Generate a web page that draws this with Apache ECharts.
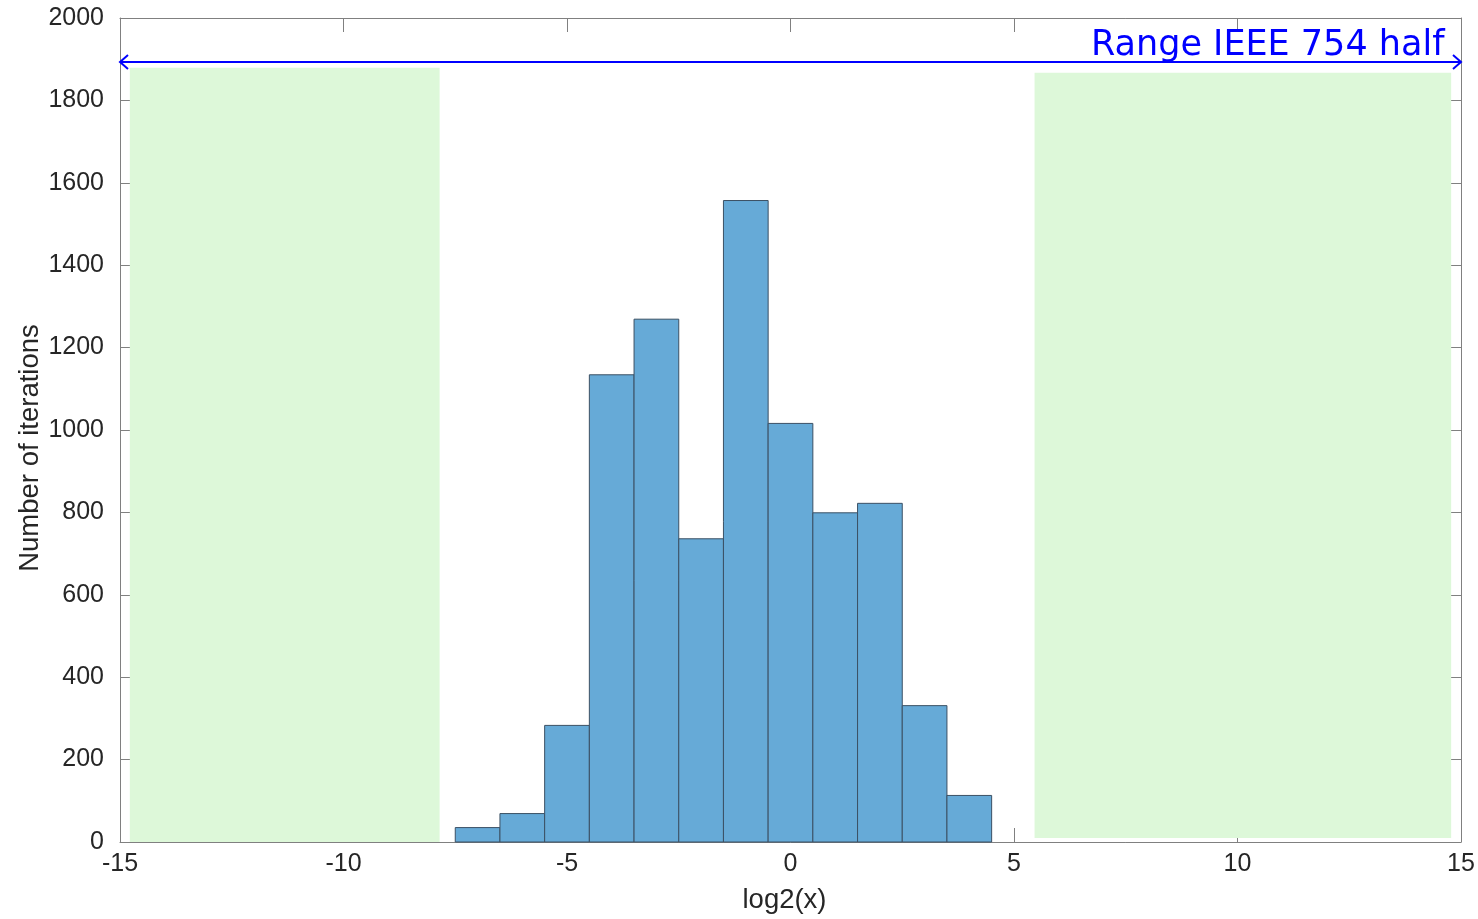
<!DOCTYPE html>
<html>
<head>
<meta charset="utf-8">
<script src="https://cdn.jsdelivr.net/npm/echarts@6/dist/echarts.min.js"></script>
<style>
html,body{margin:0;padding:0;background:#fff;}
#chart{width:1478px;height:919px;}
</style>
</head>
<body>
<div id="chart"></div>
<script>
// ---- data ----
var binCenters = [-7, -6, -5, -4, -3, -2, -1, 0, 1, 2, 3, 4];
var counts = [35, 69, 283, 1134, 1269, 736, 1557, 1016, 799, 822, 331, 113];
var binWidth = 1;
// shaded regions: [xStart, xEnd, yBottom, yTop]
var shadeLeft = [-14.78, -7.85, 0, 1879];
var shadeRight = [5.46, 14.78, 10, 1867];
// range arrow: [xStart, xEnd, y]
var rangeArrow = [-15, 15, 1893];
var rangeLabel = 'Range IEEE 754 half';
var rangeLabelPos = [14.63, 1890];
var xTicks = [-15, -10, -5, 0, 5, 10, 15];
var yTicks = [0, 200, 400, 600, 800, 1000, 1200, 1400, 1600, 1800, 2000];

var chart = echarts.init(document.getElementById('chart'));
var axisColor = '#808080';
var labelColor = '#262626';
var tickFont = 'Liberation Sans, Arial, sans-serif';

var barData = binCenters.map(function (c, i) { return [c, counts[i]]; });

var option = {
  animation: false,
  backgroundColor: '#ffffff',
  grid: { left: 120, right: 17, top: 18, bottom: 77, containLabel: false },
  xAxis: [{
    type: 'value', min: xTicks[0], max: xTicks[xTicks.length - 1], interval: 5,
    name: 'log2(x)', nameLocation: 'middle', nameGap: 44, nameMoveOverlap: false,
    nameTextStyle: { fontSize: 27.5, color: labelColor, fontFamily: tickFont, padding: [0, 12, 0, 0] },
    axisLine: { show: true, onZero: false, lineStyle: { color: axisColor, width: 1 } },
    axisTick: { show: true, inside: true, length: 14, lineStyle: { color: axisColor } },
    axisLabel: { fontSize: 25, color: labelColor, fontFamily: tickFont, margin: 10,
      formatter: function (v) { return String(v); } },
    splitLine: { show: false }
  }, {
    type: 'value', min: xTicks[0], max: xTicks[xTicks.length - 1], interval: 5, position: 'top',
    axisLine: { show: true, onZero: false, lineStyle: { color: axisColor, width: 1 } },
    axisTick: { show: true, inside: true, length: 14, lineStyle: { color: axisColor } },
    axisLabel: { show: false },
    splitLine: { show: false }
  }],
  yAxis: [{
    type: 'value', min: yTicks[0], max: yTicks[yTicks.length - 1], interval: 200,
    name: 'Number of iterations', nameLocation: 'middle', nameGap: 76, nameMoveOverlap: false,
    nameTextStyle: { fontSize: 27.5, color: labelColor, fontFamily: tickFont, padding: [0, 36, 0, 0] },
    axisLine: { show: true, onZero: false, lineStyle: { color: axisColor, width: 1 } },
    axisTick: { show: true, inside: true, length: 14, lineStyle: { color: axisColor } },
    axisLabel: { fontSize: 25, color: labelColor, fontFamily: tickFont, margin: 16,
      formatter: function (v) { return String(v); } },
    splitLine: { show: false }
  }, {
    type: 'value', min: yTicks[0], max: yTicks[yTicks.length - 1], interval: 200, position: 'right',
    axisLine: { show: true, onZero: false, lineStyle: { color: axisColor, width: 1 } },
    axisTick: { show: true, inside: true, length: 14, lineStyle: { color: axisColor } },
    axisLabel: { show: false },
    splitLine: { show: false }
  }],
  series: [{
    type: 'custom',
    name: 'shade',
    z: 1,
    data: [shadeLeft, shadeRight],
    renderItem: function (params, api) {
      var p0 = api.coord([api.value(0), api.value(3)]);
      var p1 = api.coord([api.value(1), api.value(2)]);
      return {
        type: 'rect',
        shape: { x: p0[0], y: p0[1], width: p1[0] - p0[0], height: p1[1] - p0[1] },
        style: { fill: '#ddf8d9', stroke: null }
      };
    }
  }, {
    type: 'custom',
    name: 'hist',
    z: 2,
    data: barData,
    renderItem: function (params, api) {
      var c = api.value(0), v = api.value(1);
      var p0 = api.coord([c - binWidth / 2, v]);
      var p1 = api.coord([c + binWidth / 2, 0]);
      return {
        type: 'rect',
        shape: { x: p0[0], y: p0[1], width: p1[0] - p0[0], height: p1[1] - p0[1] },
        style: { fill: '#66aad7', stroke: '#3b5064', lineWidth: 1 }
      };
    }
  }, {
    type: 'custom',
    name: 'arrow',
    z: 3,
    data: [rangeArrow],
    renderItem: function (params, api) {
      var a = api.coord([api.value(0), api.value(2)]);
      var b = api.coord([api.value(1), api.value(2)]);
      var st = { stroke: '#0000ff', lineWidth: 2, fill: null };
      return {
        type: 'group',
        children: [
          { type: 'line', shape: { x1: a[0], y1: a[1], x2: b[0], y2: b[1] }, style: st },
          { type: 'polyline', shape: { points: [[a[0] + 8, a[1] - 7], [a[0], a[1]], [a[0] + 8, a[1] + 7]] }, style: st },
          { type: 'polyline', shape: { points: [[b[0] - 8, b[1] - 7], [b[0], b[1]], [b[0] - 8, b[1] + 7]] }, style: st }
        ]
      };
    }
  }, {
    type: 'custom',
    name: 'label',
    z: 4,
    data: [rangeLabelPos],
    renderItem: function (params, api) {
      var p = api.coord([api.value(0), api.value(1)]);
      return {
        type: 'text',
        x: p[0], y: p[1],
        style: {
          text: rangeLabel,
          fill: '#0000ff',
          font: '35px "DejaVu Sans", sans-serif',
          textAlign: 'right',
          textVerticalAlign: 'bottom'
        }
      };
    }
  }]
};
chart.setOption(option);
</script>
</body>
</html>
